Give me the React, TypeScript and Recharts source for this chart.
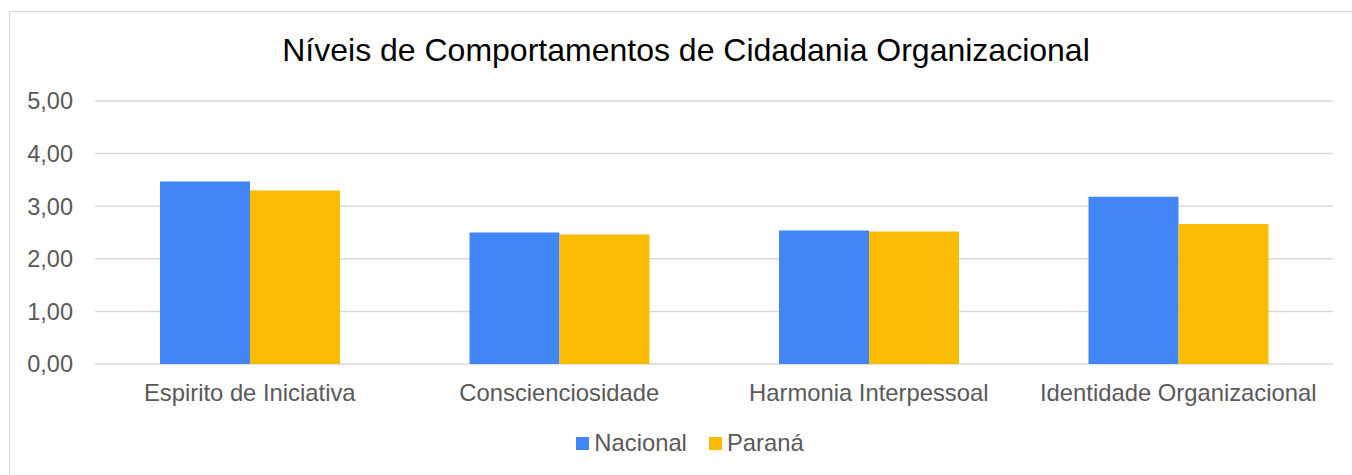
import { Bar, BarChart, CartesianGrid, Legend, XAxis, YAxis } from 'recharts'

const categories = [
  'Espirito de Iniciativa',
  'Conscienciosidade',
  'Harmonia Interpessoal',
  'Identidade Organizacional',
]
const nacional = [3.47, 2.5, 2.54, 3.18]
const parana = [3.3, 2.46, 2.52, 2.66]
const yTicks = [0, 1, 2, 3, 4, 5]

const series = [
  { key: 'nacional', label: 'Nacional', color: '#4285F4' },
  { key: 'parana', label: 'Paraná', color: '#FBBC04' },
]

const data = categories.map((name, i) => ({
  name,
  nacional: nacional[i],
  parana: parana[i],
}))

const font = '"Liberation Sans", Arial, sans-serif'

function LegendContent() {
  return (
    <div style={{ display: 'flex', justifyContent: 'center', gap: 22, fontFamily: font, fontSize: 23.8, color: '#595959' }}>
      {series.map((s) => (
        <div key={s.key} style={{ display: 'flex', alignItems: 'center' }}>
          <span style={{ display: 'inline-block', width: 13, height: 13, background: s.color, marginRight: 5 }} />
          <span>{s.label}</span>
        </div>
      ))}
    </div>
  )
}

export default function App() {
  return (
    <div
      style={{
        position: 'absolute',
        left: 9,
        top: 11,
        width: 1360,
        height: 480,
        border: '1px solid #d9d9d9',
        boxSizing: 'border-box',
        background: '#fff',
      }}
    >
      <div
        style={{
          position: 'absolute',
          left: 0,
          top: 22,
          width: 1352,
          textAlign: 'center',
          fontFamily: font,
          fontSize: 32,
          lineHeight: '32px',
          color: '#000',
        }}
      >
        Níveis de Comportamentos de Cidadania Organizacional
      </div>
      <BarChart
        width={1342}
        height={463}
        data={data}
        margin={{ top: 89, right: 19, left: 0, bottom: 0 }}
        barCategoryGap="21%"
        barGap={0}
      >
        <CartesianGrid vertical={false} stroke="#d9d9d9" strokeWidth={1.5} />
        <XAxis
          dataKey="name"
          height={111}
          axisLine={false}
          tickLine={false}
          tickSize={0}
          tickMargin={20}
          tick={{ fill: '#595959', fontSize: 23.8, fontFamily: font }}
        />
        <YAxis
          width={85}
          domain={[0, 5]}
          ticks={yTicks}
          axisLine={false}
          tickLine={false}
          tickSize={0}
          tickMargin={22}
          tickFormatter={(v: number) => v.toFixed(2).replace('.', ',')}
          tick={{ fill: '#595959', fontSize: 23.5, fontFamily: font }}
        />
        <Legend
          verticalAlign="middle"
          align="center"
          layout="horizontal"
          wrapperStyle={{ top: 417, left: 9, width: 1342 }}
          content={<LegendContent />}
        />
        {series.map((s) => (
          <Bar key={s.key} dataKey={s.key} name={s.label} fill={s.color} isAnimationActive={false} />
        ))}
      </BarChart>
    </div>
  )
}
